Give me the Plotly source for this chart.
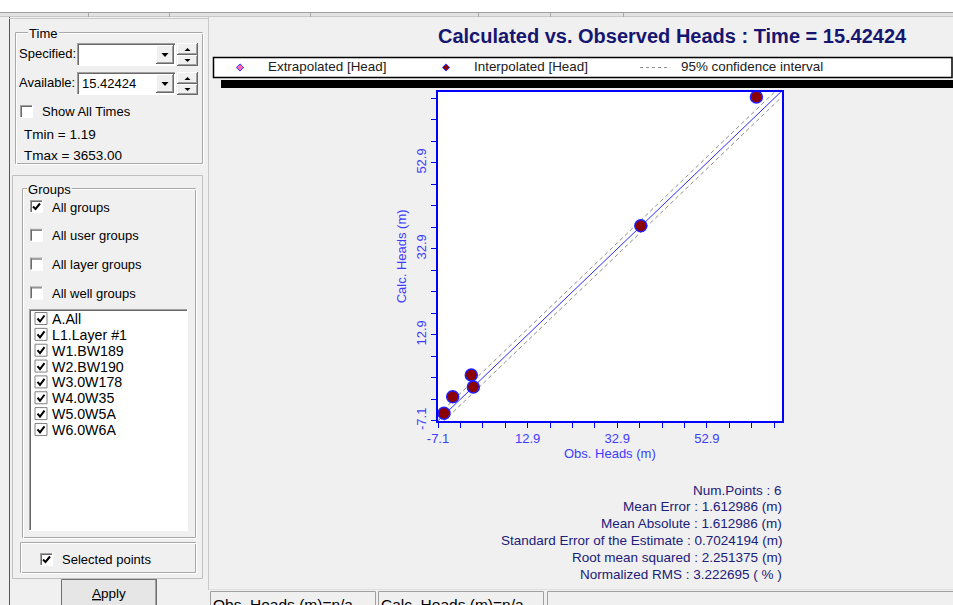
import plotly.graph_objects as go

# ---------------- data ----------------
obs_heads = [-5.76, -3.82, 0.33, 0.78, 38.16, 63.95]
calc_heads = [-5.38, -1.52, 3.53, 0.74, 38.25, 68.25]
axis_lo = -7.1
x_hi = 69.6
y_hi = 69.4
major_ticks = [-7.1, 12.9, 32.9, 52.9]
major_labels = ["-7.1", "12.9", "32.9", "52.9"]
minor_step = 5
ci_offset = 1.376  # 1.96 * standard error of estimate
line_ends = [-7.1, 69.6]

title_text = "Calculated vs. Observed Heads : Time = 15.42424"
legend_labels = ["Extrapolated [Head]", "Interpolated [Head]", "95% confidence interval"]
stat_names = ["Num.Points", "Mean Error", "Mean Absolute",
              "Standard Error of the Estimate", "Root mean squared", "Normalized RMS"]
stat_values = ["6", "1.612986 (m)", "1.612986 (m)", "0.7024194 (m)",
               "2.251375 (m)", "3.222695 ( % )"]
group_options = ["All groups", "All user groups", "All layer groups", "All well groups"]
group_checked = [True, False, False, False]
group_list = ["A.All", "L1.Layer #1", "W1.BW189", "W2.BW190",
              "W3.0W178", "W4.0W35", "W5.0W5A", "W6.0W6A"]
time_available = "15.42424"
tmin_text = "Tmin = 1.19"
tmax_text = "Tmax = 3653.00"
status_texts = ["Obs. Heads (m)=n/a", "Calc. Heads (m)=n/a"]

# ---------------- helpers (pixel -> paper) ----------------
W, H = 953, 605
FONT = "Liberation Sans, Arial, sans-serif"
shapes, annotations = [], []


def px(x):
    return x / W


def py(y):
    return 1 - y / H


def rect(x0, y0, x1, y1, fill=None, line=None, lw=1):
    shapes.append(dict(type="rect", xref="paper", yref="paper",
                       x0=px(x0), x1=px(x1), y0=py(y1), y1=py(y0),
                       fillcolor=fill if fill else "rgba(0,0,0,0)",
                       line=dict(color=line if line else "rgba(0,0,0,0)",
                                 width=lw if line else 0)))


def seg(x0, y0, x1, y1, color, w=1, dash=None):
    d = dict(color=color, width=w)
    if dash:
        d["dash"] = dash
    shapes.append(dict(type="line", xref="paper", yref="paper",
                       x0=px(x0), x1=px(x1), y0=py(y0), y1=py(y1), line=d))


def hline(x0, x1, y, color, w=1):
    seg(x0, y + 0.5, x1, y + 0.5, color, w)


def vline(x, y0, y1, color, w=1):
    seg(x + 0.5, y0, x + 0.5, y1, color, w)


def path(points, fill=None, line=None, lw=1, closed=True):
    s = "M " + " L ".join(f"{px(a):.6f},{py(b):.6f}" for a, b in points)
    if closed:
        s += " Z"
    shapes.append(dict(type="path", xref="paper", yref="paper", path=s,
                       fillcolor=fill if fill else "rgba(0,0,0,0)",
                       line=dict(color=line if line else "rgba(0,0,0,0)",
                                 width=lw if line else 0)))


def text(x, y, s, size=13, color="#000000", xanchor="left", yanchor="middle",
         bold=False, bg=None, family=FONT, textangle=0):
    if bold:
        s = "<b>" + s + "</b>"
    a = dict(xref="paper", yref="paper", x=px(x), y=py(y), text=s, showarrow=False,
             xanchor=xanchor, yanchor=yanchor, borderpad=0, borderwidth=0,
             font=dict(family=family, size=size, color=color), textangle=textangle)
    if bg:
        a["bgcolor"] = bg
    annotations.append(a)


def sunken(x0, y0, x1, y1, fill="#ffffff"):
    rect(x0, y0, x1, y1, fill=fill)
    hline(x0, x1, y0, "#a0a0a0")
    vline(x0, y0, y1, "#a0a0a0")
    hline(x0 + 1, x1 - 1, y0 + 1, "#696969")
    vline(x0 + 1, y0 + 1, y1 - 1, "#696969")
    hline(x0, x1, y1 - 1, "#ffffff")
    vline(x1 - 1, y0, y1, "#ffffff")


def raised(x0, y0, x1, y1, fill="#f0f0f0"):
    rect(x0, y0, x1, y1, fill=fill)
    hline(x0, x1, y0, "#ffffff")
    vline(x0, y0, y1, "#ffffff")
    hline(x0, x1, y1 - 1, "#696969")
    vline(x1 - 1, y0, y1, "#696969")
    hline(x0 + 1, x1 - 1, y1 - 2, "#a0a0a0")
    vline(x1 - 2, y0 + 1, y1 - 1, "#a0a0a0")


def groupbox(x0, y0, x1, y1, label=None, lx=None):
    rect(x0 + 0.5, y0 + 0.5, x1 - 0.5, y1 - 0.5, line="#a8a8a8")
    rect(x0 + 1.5, y0 + 1.5, x1 + 0.5, y1 + 0.5, line="#ffffff")
    if label:
        text(lx if lx else x0 + 8, y0 + 1, "&#8202;" + label + "&#8202;", size=13,
             bg="#f0f0f0")


def checkbox(x, y, checked):
    sunken(x, y, x + 13, y + 13)
    if checked:
        path([(x + 3, y + 6.5), (x + 5.5, y + 9), (x + 10, y + 3.5)],
             line="#000000", lw=2, closed=False)


def down_tri(cx, cy, w=7, h=4):
    path([(cx - w / 2, cy - h / 2), (cx + w / 2, cy - h / 2), (cx, cy + h / 2)],
         fill="#000000")


def up_tri(cx, cy, w=7, h=4):
    path([(cx - w / 2, cy + h / 2), (cx + w / 2, cy + h / 2), (cx, cy - h / 2)],
         fill="#000000")


# ---------------- window chrome ----------------
rect(0, 0, W, 12, fill="#ffffff")
rect(0, 12, W, 17, fill="#e2e2e2")
hline(0, W, 12, "#a0a0a0")
hline(0, W, 16, "#c8c8c8")
for sx in [88, 169, 310, 478, 550, 623]:
    vline(sx, 12, 17, "#a8a8a8")

vline(9, 17, H, "#4a5878")
vline(208, 17, 590, "#c8c8c8")
hline(9, 209, 18, "#c8c8c8")

# ---- Time panel ----
groupbox(15, 32, 203, 164, "Time", lx=28)
text(19, 54, "Specified:", size=13)
sunken(77, 43, 176, 66)
raised(156, 45, 174, 64)
down_tri(165, 55)
raised(177, 43, 198, 55)
raised(177, 55, 198, 66)
up_tri(187.5, 49.5, 6, 3)
down_tri(187.5, 60.5, 6, 3)

text(19, 83, "Available:", size=13)
sunken(77, 72, 176, 95)
text(82, 83.5, time_available, size=13)
raised(156, 74, 174, 93)
down_tri(165, 84)
raised(177, 72, 198, 84)
raised(177, 84, 198, 95)
up_tri(187.5, 78.5, 6, 3)
down_tri(187.5, 89.5, 6, 3)

checkbox(20, 105, False)
text(42, 111.5, "Show All Times", size=13)
text(24, 134.5, tmin_text, size=13.5)
text(24, 155, tmax_text, size=13.5)

# ---- Groups panel ----
rect(12.5, 175.5, 202.5, 578.5, line="#c0c0c0")
groupbox(22, 188, 196, 538, "Groups", lx=27)
for i, (lbl, chk) in enumerate(zip(group_options, group_checked)):
    yy = 200 + i * 28.8
    checkbox(30, yy, chk)
    text(52, yy + 7, lbl, size=13)

sunken(29, 309, 188, 531)
for i, lbl in enumerate(group_list):
    yy = 312.5 + i * 15.85
    rect(35, yy, 47, yy + 12, fill="#ffffff", line="#808080")
    path([(37.5, yy + 6), (40, yy + 9), (44.5, yy + 3)], line="#000000", lw=2,
         closed=False)
    text(52, yy + 6.5, lbl, size=14.2)

groupbox(20, 542, 196, 573)
checkbox(40, 553, True)
text(62, 559.5, "Selected points", size=13)

raised(61, 579, 157, 612, fill="#e6e6e6")
rect(61.5, 579.5, 156.5, 611.5, line="#707070")
text(109, 593.5, "<u>A</u>pply", size=13.5, xanchor="center")

# ---- status bar ----
hline(209, W, 589, "#e0e0e0")
for (a, b) in [(210, 376), (378, 544), (547, W + 2)]:
    rect(a + 0.5, 591.5, b - 0.5, 608, line="#a0a0a0")
text(213, 604, status_texts[0], size=15.5)
text(381, 604, status_texts[1], size=15.5)

# ---- title & legend ----
text(672, 36.5, title_text, size=20, color="#161670", xanchor="center", bold=True)

rect(213.5, 57.5, 952, 77.5, fill="#ffffff", line="#000000", lw=1.5)
rect(221, 80, W, 88, fill="#000000")


def diamond(cx, cy, r, fill):
    path([(cx, cy - r), (cx + r, cy), (cx, cy + r), (cx - r, cy)], fill=fill,
         line="#3030ff", lw=1)


diamond(240, 67.5, 3.6, "#ff6ab4")
text(268, 67, legend_labels[0], size=13.4, color="#202020")
diamond(446, 67.5, 3.6, "#8b0000")
text(474, 67, legend_labels[1], size=13.4, color="#202020")
seg(640, 67.5, 668, 67.5, "#909090", 1, dash="3px,3px")
text(681, 67, legend_labels[2], size=13.4, color="#202020")

# ---- statistics ----
for i, (n, v) in enumerate(zip(stat_names, stat_values)):
    text(782, 490 + i * 16.9, f"{n} : {v}", size=13.5, color="#20207a", xanchor="right")

# ---------------- plot ----------------
fig = go.Figure()
fig.add_trace(go.Scatter(x=line_ends, y=[v + ci_offset for v in line_ends],
                         mode="lines", line=dict(color="#8c8c8c", width=1, dash="4px,3px"),
                         hoverinfo="skip", showlegend=False))
fig.add_trace(go.Scatter(x=line_ends, y=[v - ci_offset for v in line_ends],
                         mode="lines", line=dict(color="#8c8c8c", width=1, dash="4px,3px"),
                         hoverinfo="skip", showlegend=False))
fig.add_trace(go.Scatter(x=line_ends, y=line_ends, mode="lines",
                         line=dict(color="#2a2aff", width=1),
                         hoverinfo="skip", showlegend=False))
fig.add_trace(go.Scatter(x=obs_heads, y=calc_heads, mode="markers",
                         marker=dict(size=12, color="#8b0000",
                                     line=dict(color="#2020ff", width=1.5)),
                         cliponaxis=False, showlegend=False,
                         name=legend_labels[1]))

axis_blue = "#0000ff"
label_blue = "#3c3cff"
common = dict(tickvals=major_ticks, ticktext=major_labels, ticks="outside", ticklen=5,
              tickwidth=1, tickcolor=axis_blue,
              minor=dict(tick0=axis_lo, dtick=minor_step, ticks="outside", ticklen=5,
                         tickwidth=1, tickcolor=axis_blue, showgrid=False),
              showline=True, linecolor=axis_blue, linewidth=2, mirror=True,
              showgrid=False, zeroline=False, automargin=False,
              tickfont=dict(family=FONT, size=13, color=label_blue))

fig.update_layout(
    width=W, height=H, margin=dict(l=0, r=0, t=0, b=0),
    paper_bgcolor="#f0f0f0", plot_bgcolor="#ffffff",
    showlegend=False, shapes=shapes, annotations=annotations,
    xaxis=dict(domain=[438 / W, 781.7 / W], range=[axis_lo, x_hi],
               title=dict(text="Obs. Heads (m)", standoff=4,
                          font=dict(family=FONT, size=13, color=label_blue)),
               **common),
    yaxis=dict(domain=[1 - 420.7 / H, 1 - 92 / H], range=[axis_lo, y_hi],
               tickangle=-90,
               title=dict(text="Calc. Heads (m)", standoff=4,
                          font=dict(family=FONT, size=13, color=label_blue)),
               **common),
)

fig.write_html("out.html", config={"displayModeBar": False},
               post_script="document.body.style.margin='0px';"
                           "document.body.style.overflow='hidden';")
